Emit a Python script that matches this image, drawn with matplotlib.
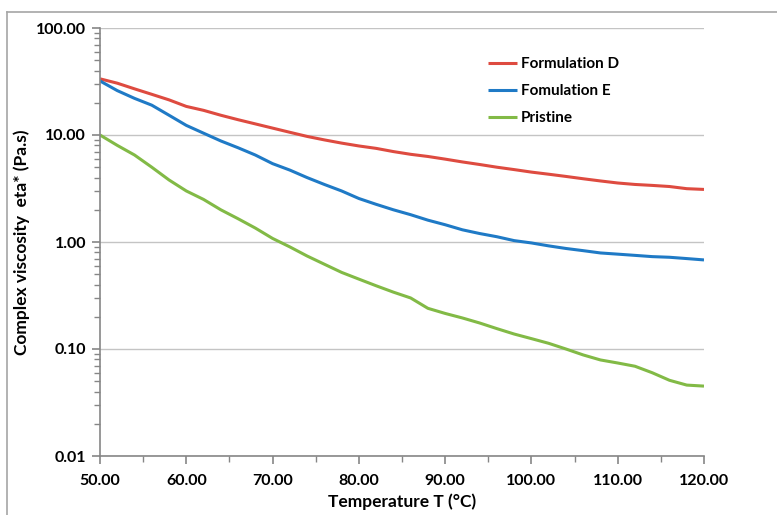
import matplotlib; matplotlib.use("Agg")
import matplotlib.pyplot as plt
from matplotlib.lines import Line2D
from matplotlib.ticker import LogLocator, FixedLocator, FormatStrFormatter, NullFormatter

plt.rcParams.update({"font.family": ["Lato", "DejaVu Sans"], "font.weight": "bold"})

# complex viscosity vs temperature, read at 2 degC steps
temp = [50, 52, 54, 56, 58, 60, 62, 64, 66, 68, 70, 72, 74, 76, 78, 80, 82, 84, 86, 88,
        90, 92, 94, 96, 98, 100, 102, 104, 106, 108, 110, 112, 114, 116, 118, 120]
form_d = [33.5, 30.5, 27.0, 24.0, 21.3, 18.5, 17.0, 15.3, 13.9, 12.7, 11.6, 10.6, 9.7, 9.0,
          8.4, 7.9, 7.5, 7.0, 6.6, 6.3, 5.95, 5.6, 5.3, 5.0, 4.75, 4.5, 4.3, 4.1, 3.9, 3.72,
          3.56, 3.45, 3.38, 3.3, 3.15, 3.1]
form_e = [32.0, 26.0, 22.0, 19.0, 15.3, 12.3, 10.4, 8.8, 7.6, 6.5, 5.4, 4.7, 4.0, 3.45,
          3.0, 2.55, 2.25, 2.0, 1.8, 1.6, 1.45, 1.3, 1.2, 1.12, 1.03, 0.98, 0.92, 0.87,
          0.83, 0.79, 0.77, 0.75, 0.73, 0.72, 0.70, 0.68]
pristine = [10.0, 8.0, 6.5, 5.0, 3.8, 3.0, 2.5, 2.0, 1.65, 1.35, 1.08, 0.9, 0.74, 0.62,
            0.52, 0.45, 0.39, 0.34, 0.30, 0.24, 0.215, 0.195, 0.175, 0.155, 0.138, 0.125,
            0.113, 0.10, 0.088, 0.079, 0.074, 0.069, 0.06, 0.051, 0.046, 0.045]
labels = ["Formulation D", "Fomulation E", "Pristine"]
colors = ["#DE4B40", "#1F7AC6", "#82BA46"]

fig = plt.figure(figsize=(7.77, 5.15), dpi=100)
ax = fig.add_axes([100/777, 1-456/515, 604/777, 428/515])

for y, lab, col in zip([form_d, form_e, pristine], labels, colors):
    ax.plot(temp, y, color=col, lw=2.2, label=lab, solid_capstyle="butt")

ax.set_yscale("log")
ax.set_ylim(0.01, 100)
ax.set_xlim(50, 120)
ax.yaxis.set_major_locator(LogLocator(base=10, numticks=10))
ax.yaxis.set_minor_locator(LogLocator(base=10, subs=range(2, 10), numticks=10))
ax.yaxis.set_major_formatter(FormatStrFormatter("%.2f"))
ax.yaxis.set_minor_formatter(NullFormatter())
ax.xaxis.set_major_locator(FixedLocator(range(50, 121, 10)))
ax.xaxis.set_minor_locator(FixedLocator(range(55, 120, 10)))
ax.xaxis.set_major_formatter(FormatStrFormatter("%.2f"))

ax.grid(axis="y", which="major", color="#C4C4C4", lw=1.0)
ax.set_axisbelow(True)
for sp in ("top", "right"):
    ax.spines[sp].set_visible(False)
for sp in ("left", "bottom"):
    ax.spines[sp].set_color("#868686")
    ax.spines[sp].set_linewidth(1.2)
ax.tick_params(which="major", length=6, width=1.2, color="#868686", labelsize=11.5, pad=4)
ax.tick_params(which="minor", length=4, width=1.0, color="#868686")
ax.tick_params(axis="x", pad=7)
for t in ax.get_xticklabels() + ax.get_yticklabels():
    t.set_fontweight("bold")

ax.set_xlabel("Temperature T (°C)", fontsize=12.5, fontweight="bold", labelpad=4)
ax.set_ylabel("Complex viscosity  eta* (Pa.s)", fontsize=12.5, fontweight="bold")
ax.yaxis.set_label_coords(-70/604, 0.5)

leg = ax.legend(loc="upper left", bbox_to_anchor=(388/604, 1-29/428), frameon=False,
                fontsize=11, handlelength=1.9, handletextpad=0.25, labelspacing=0.85,
                borderaxespad=0, borderpad=0)
for t in leg.get_texts():
    t.set_fontweight("bold")

# chart-area border: only the top and left edges sit inside the canvas
x0, y0 = 7/777, 1 - 12/515
fig.add_artist(Line2D([x0, x0], [0, y0], transform=fig.transFigure, color="#A6A6A6", lw=1.2))
fig.add_artist(Line2D([x0, 1], [y0, y0], transform=fig.transFigure, color="#A6A6A6", lw=1.2))

fig.savefig("out.png", dpi=100)
